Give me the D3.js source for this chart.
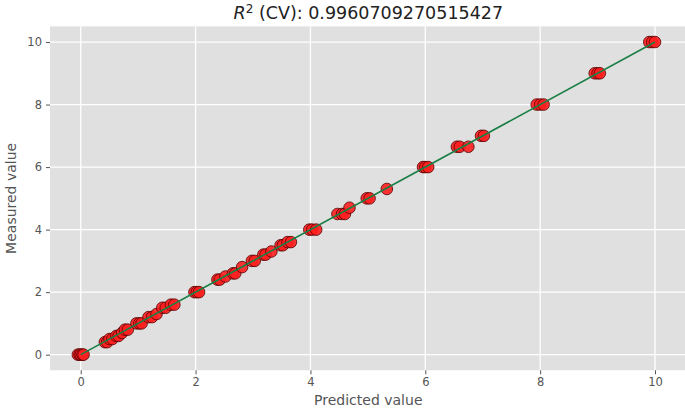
<!DOCTYPE html>
<meta charset="utf-8">
<style>
body { margin: 0; background: #fff; }
text { font-family: "DejaVu Sans", sans-serif; }
.grid line { stroke: #fff; stroke-width: 1.3px; }
.axis text { fill: #555; font-size: 11.5px; }
.axis line { stroke: #555; }
.axis path { display: none; }
</style>
<svg width="685" height="409"></svg>
<script src="https://d3js.org/d3.v7.min.js"></script>
<script>
// cross-validated predictions vs measured values
var predicted = [
  -0.05, -0.02, 0.0, 0.03, 0.05,
  0.42, 0.46, 0.5, 0.55, 0.62, 0.66, 0.72, 0.77, 0.82,
  0.97, 1.02, 1.06, 1.18, 1.24, 1.32, 1.42, 1.48, 1.57, 1.63,
  1.98, 2.02, 2.06, 2.38, 2.42, 2.52, 2.65, 2.69, 2.81,
  2.98, 3.03, 3.18, 3.22, 3.32, 3.48, 3.52, 3.6, 3.66,
  3.98, 4.03, 4.1, 4.47, 4.55, 4.6, 4.68, 4.98, 5.03, 5.33,
  5.96, 6.0, 6.05, 6.55, 6.6, 6.75, 6.97, 7.02,
  7.94, 8.0, 8.06, 8.95, 9.0, 9.04, 9.9, 9.95, 10.0
];
var measured = [
  0, 0, 0, 0, 0,
  0.4, 0.4, 0.5, 0.5, 0.6, 0.6, 0.7, 0.8, 0.8,
  1.0, 1.0, 1.0, 1.2, 1.2, 1.3, 1.5, 1.5, 1.6, 1.6,
  2.0, 2.0, 2.0, 2.4, 2.4, 2.5, 2.6, 2.6, 2.8,
  3.0, 3.0, 3.2, 3.2, 3.3, 3.5, 3.5, 3.6, 3.6,
  4.0, 4.0, 4.0, 4.5, 4.5, 4.5, 4.7, 5.0, 5.0, 5.3,
  6.0, 6.0, 6.0, 6.65, 6.65, 6.65, 7.0, 7.0,
  8.0, 8.0, 8.0, 9.0, 9.0, 9.0, 10.0, 10.0, 10.0
];
// fitted line
var fitX = [0, 10];
var fitY = [0, 10];
var xTicks = [0, 2, 4, 6, 8, 10];
var yTicks = [0, 2, 4, 6, 8, 10];
var r2 = "0.9960709270515427";

var svg = d3.select("svg");

var x = d3.scaleLinear().domain([-0.535, 10.55]).range([50, 686.6]);
var y = d3.scaleLinear().domain([-0.5, 10.5]).range([370.3, 26.4]);

//plot background
svg.append("rect")
    .attr("x", x.range()[0])
    .attr("y", y.range()[1])
    .attr("width", x.range()[1] - x.range()[0])
    .attr("height", y.range()[0] - y.range()[1])
    .attr("fill", "#e0e0e0");

//grid lines
var grid = svg.append("g").attr("class", "grid");
grid.selectAll(".gx").data(xTicks).enter().append("line")
    .attr("x1", function(d) { return x(d); })
    .attr("x2", function(d) { return x(d); })
    .attr("y1", y.range()[0])
    .attr("y2", y.range()[1]);
grid.selectAll(".gy").data(yTicks).enter().append("line")
    .attr("y1", function(d) { return y(d); })
    .attr("y2", function(d) { return y(d); })
    .attr("x1", x.range()[0])
    .attr("x2", x.range()[1]);

//axes
svg.append("g")
    .attr("class", "axis")
    .attr("transform", "translate(0," + y.range()[0] + ")")
    .call(d3.axisBottom(x).tickValues(xTicks).tickSize(4).tickPadding(4));
svg.append("g")
    .attr("class", "axis")
    .attr("transform", "translate(" + x.range()[0] + ",0)")
    .call(d3.axisLeft(y).tickValues(yTicks).tickSize(4).tickPadding(4));

//points
var pts = predicted.map(function(p, i) { return [p, measured[i]]; });
svg.append("g").selectAll("circle")
    .data(pts)
    .enter().append("circle")
    .attr("cx", function(d) { return x(d[0]); })
    .attr("cy", function(d) { return y(d[1]); })
    .attr("r", 5.8)
    .attr("fill", "#ff1f1f")
    .attr("fill-opacity", 0.9)
    .attr("stroke", "#500000")
    .attr("stroke-width", 0.8);

//fit line
svg.append("path")
    .datum(fitX.map(function(v, i) { return [v, fitY[i]]; }))
    .attr("fill", "none")
    .attr("stroke", "#1a7f45")
    .attr("stroke-width", 1.6)
    .attr("d", d3.line().x(function(d) { return x(d[0]); }).y(function(d) { return y(d[1]); }));

//title
var title = svg.append("text")
    .attr("x", (x.range()[0] + x.range()[1]) / 2)
    .attr("y", 19)
    .attr("text-anchor", "middle")
    .attr("fill", "#222")
    .style("font-size", "17.5px");
title.append("tspan").style("font-style", "italic").text("R");
title.append("tspan").attr("dy", -6).style("font-size", "12px").text("2");
title.append("tspan").attr("dy", 6).text(" (CV): " + r2);

//axis labels
svg.append("text")
    .attr("x", (x.range()[0] + x.range()[1]) / 2)
    .attr("y", 405)
    .attr("text-anchor", "middle")
    .attr("fill", "#555")
    .style("font-size", "14px")
    .text("Predicted value");
svg.append("text")
    .attr("transform", "translate(16," + (y.range()[0] + y.range()[1]) / 2 + ") rotate(-90)")
    .attr("text-anchor", "middle")
    .attr("fill", "#555")
    .style("font-size", "14px")
    .text("Measured value");
</script>
